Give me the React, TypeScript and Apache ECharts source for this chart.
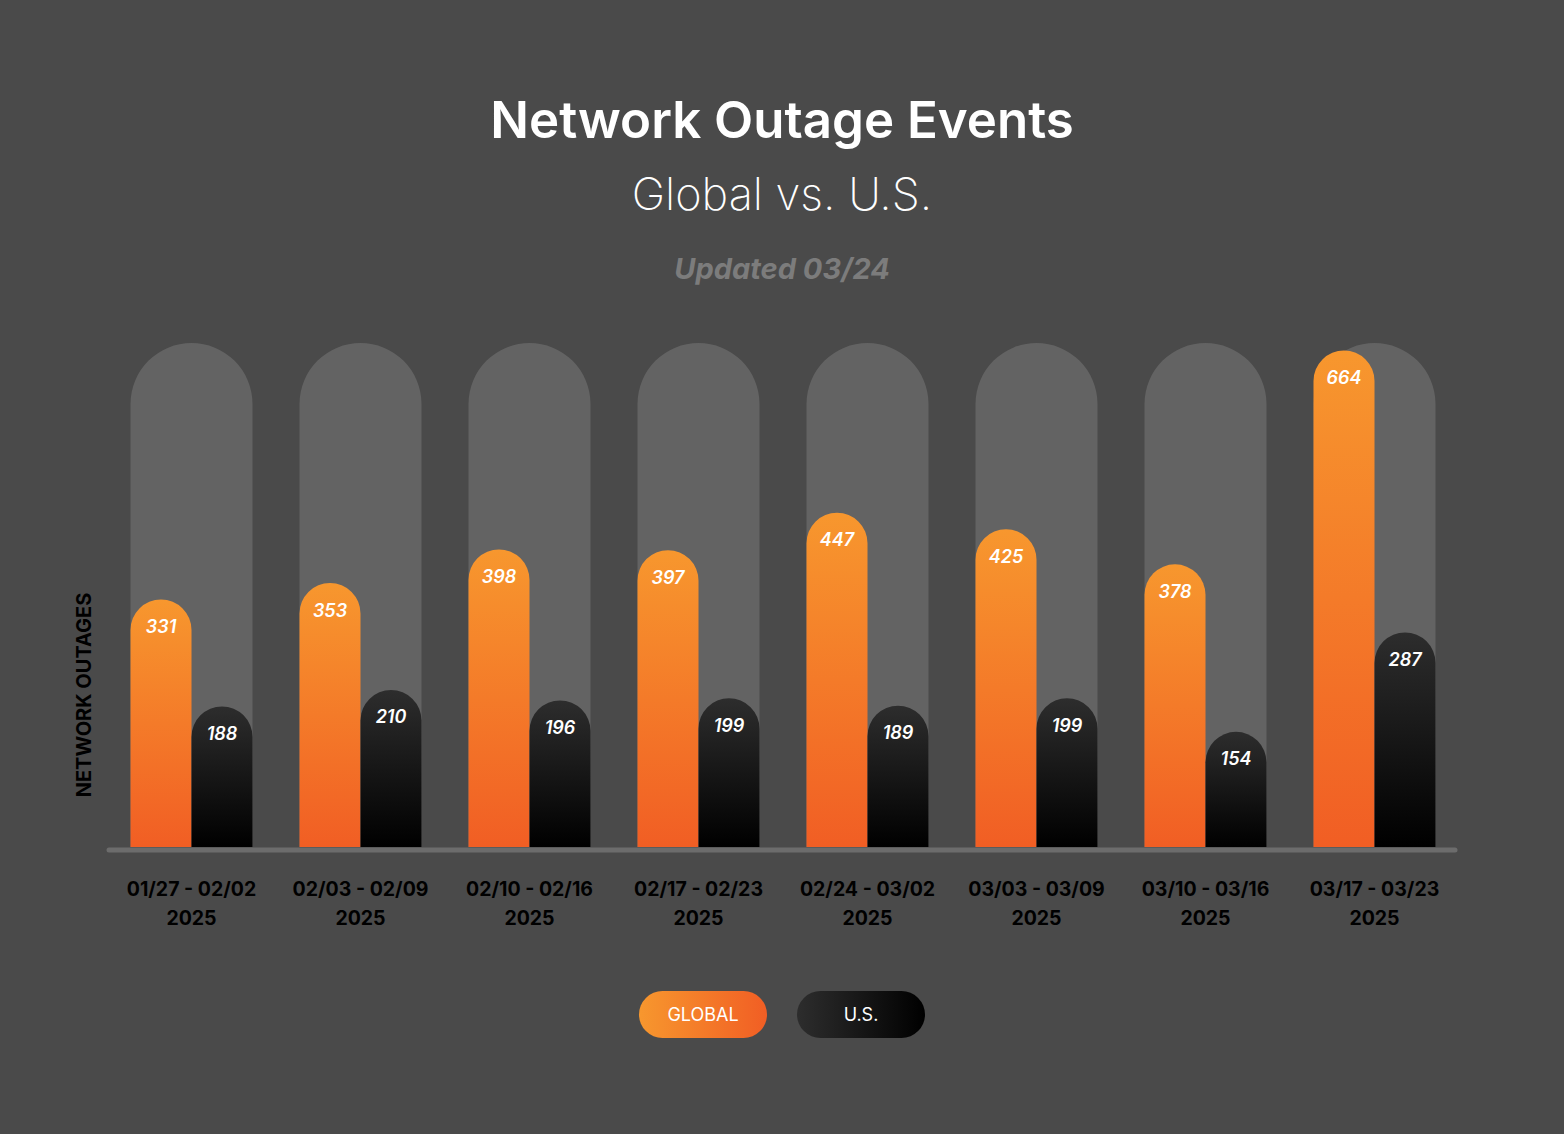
import React, { useEffect, useRef } from 'react';
import * as echarts from 'echarts';

const categories = [
  '01/27 - 02/02\n2025',
  '02/03 - 02/09\n2025',
  '02/10 - 02/16\n2025',
  '02/17 - 02/23\n2025',
  '02/24 - 03/02\n2025',
  '03/03 - 03/09\n2025',
  '03/10 - 03/16\n2025',
  '03/17 - 03/23\n2025',
];
const globalValues = [331, 353, 398, 397, 447, 425, 378, 664];
const usValues = [188, 210, 196, 199, 189, 199, 154, 287];
const axisMax = 674;
const trackValues = [674, 674, 674, 674, 674, 674, 674, 674];

const FONT = 'Inter, "Noto Sans", sans-serif';

export default function App() {
  const ref = useRef<HTMLDivElement>(null);
  useEffect(() => {
    document.body.style.margin = '0';
    const chart = echarts.init(ref.current!, null, { renderer: 'svg' });
    const orange = new echarts.graphic.LinearGradient(0, 0, 0, 1, [
      { offset: 0, color: '#f7972e' },
      { offset: 1, color: '#f15e24' },
    ]);
    const black = new echarts.graphic.LinearGradient(0, 0, 0, 1, [
      { offset: 0, color: '#2d2d2d' },
      { offset: 1, color: '#000000' },
    ]);
    const labelStyle = {
      show: true,
      position: 'insideTop' as const,
      distance: 18,
      color: '#ffffff',
      fontFamily: FONT,
      fontStyle: 'italic' as const,
      fontWeight: 600,
      fontSize: 18,
    };
    chart.setOption({
      animation: false,
      backgroundColor: '#4a4a4a',
      textStyle: { fontFamily: FONT },
      grid: { left: 107, top: 343, width: 1352, height: 504, containLabel: false },
      xAxis: [
        {
          type: 'category',
          data: categories,
          axisLine: { show: false },
          axisTick: { show: false },
          axisLabel: {
            interval: 0,
            hideOverlap: false,
            color: '#000000',
            fontFamily: FONT,
            fontWeight: 'bold',
            fontSize: 19.5,
            lineHeight: 29,
            margin: 27,
          },
        },
        {
          type: 'category',
          data: categories,
          show: false,
        },
      ],
      yAxis: {
        type: 'value',
        min: 0,
        max: axisMax,
        show: false,
        splitLine: { show: false },
      },
      series: [
        {
          name: 'track',
          type: 'bar',
          xAxisIndex: 1,
          data: trackValues,
          barWidth: 122,
          itemStyle: { color: '#636363', borderRadius: [61, 61, 0, 0] },
          silent: true,
          z: 1,
        },
        {
          name: 'GLOBAL',
          type: 'bar',
          data: globalValues,
          barWidth: 61,
          barGap: '0%',
          itemStyle: { color: orange, borderRadius: [30.5, 30.5, 0, 0] },
          label: labelStyle,
          z: 3,
        },
        {
          name: 'U.S.',
          type: 'bar',
          data: usValues,
          barWidth: 61,
          barGap: '0%',
          itemStyle: { color: black, borderRadius: [30.5, 30.5, 0, 0] },
          label: labelStyle,
          z: 3,
        },
      ],
      title: [
        {
          text: 'Network Outage Events',
          left: 'center',
          top: 89,
          textStyle: { color: '#ffffff', fontFamily: FONT, fontWeight: 600, fontSize: 51 },
        },
        {
          text: 'Global vs. U.S.',
          left: 'center',
          top: 166,
          textStyle: { color: '#ffffff', fontFamily: FONT, fontWeight: 200, fontSize: 45 },
        },
        {
          text: 'Updated 03/24',
          left: 'center',
          top: 249,
          textStyle: { color: '#7c7c7c', fontFamily: FONT, fontStyle: 'italic', fontWeight: 'bold', fontSize: 29 },
        },
      ],
      graphic: [
        {
          type: 'line',
          shape: { x1: 109, y1: 850, x2: 1455, y2: 850 },
          style: { stroke: '#6c6c6c', lineWidth: 5, lineCap: 'round' },
          z: 0,
        },
        {
          type: 'text',
          x: 84,
          y: 695,
          rotation: Math.PI / 2,
          style: {
            text: 'NETWORK OUTAGES',
            fill: '#000000',
            font: `bold 20px ${FONT}`,
            align: 'center',
            verticalAlign: 'middle',
          },
        },
        {
          type: 'rect',
          shape: { x: 639, y: 991, width: 128, height: 47, r: 23.5 },
          style: {
            fill: new echarts.graphic.LinearGradient(0, 0, 1, 0, [
              { offset: 0, color: '#f7972e' },
              { offset: 1, color: '#f15e24' },
            ]),
          },
        },
        {
          type: 'text',
          x: 703,
          y: 1014.5,
          style: {
            text: 'GLOBAL',
            fill: '#ffffff',
            font: `18px ${FONT}`,
            align: 'center',
            verticalAlign: 'middle',
          },
        },
        {
          type: 'rect',
          shape: { x: 797, y: 991, width: 128, height: 47, r: 23.5 },
          style: {
            fill: new echarts.graphic.LinearGradient(0, 0, 1, 0, [
              { offset: 0, color: '#2d2d2d' },
              { offset: 1, color: '#000000' },
            ]),
          },
        },
        {
          type: 'text',
          x: 861,
          y: 1014.5,
          style: {
            text: 'U.S.',
            fill: '#ffffff',
            font: `18px ${FONT}`,
            align: 'center',
            verticalAlign: 'middle',
          },
        },
      ],
    });
    return () => chart.dispose();
  }, []);
  return <div ref={ref} style={{ width: 1564, height: 1134 }} />;
}
